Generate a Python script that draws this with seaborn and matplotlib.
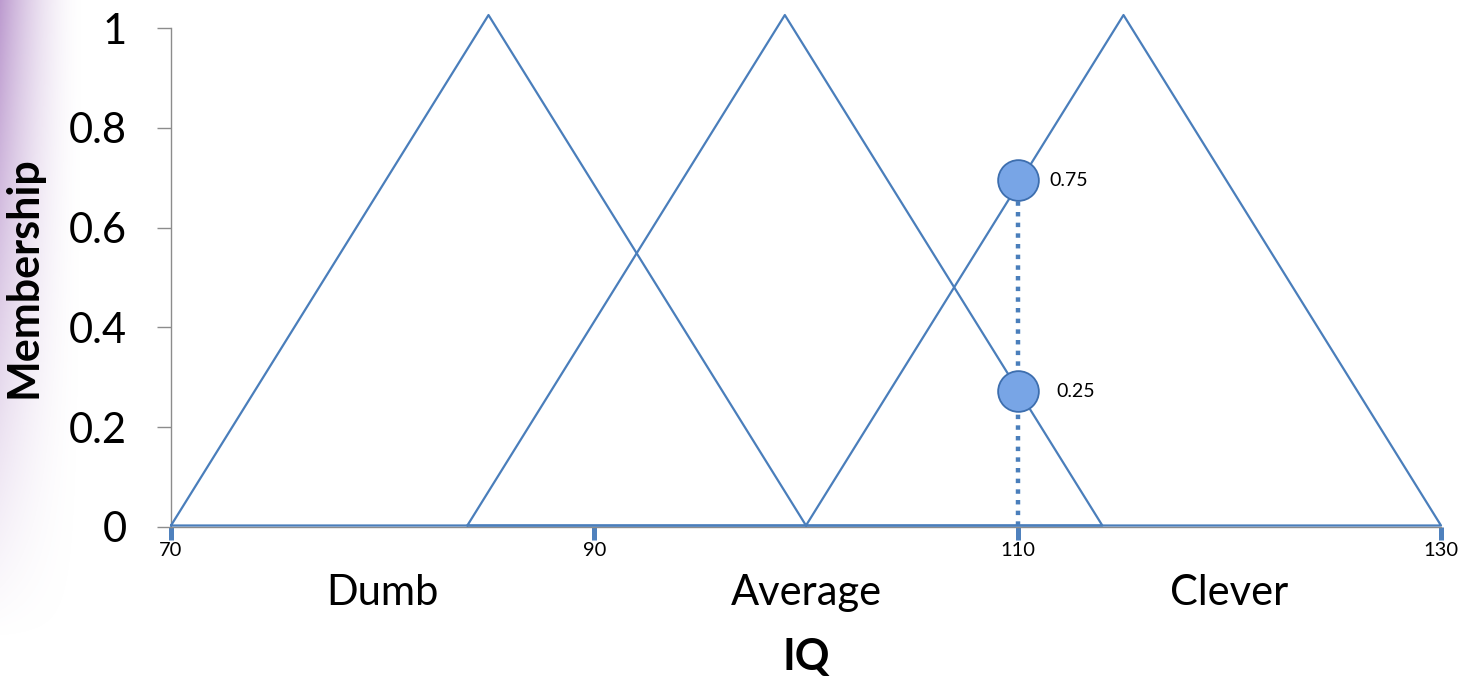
import numpy as np
import pandas as pd
import matplotlib
matplotlib.use("Agg")
import matplotlib.pyplot as plt
import seaborn as sns

# ---- data ----
set_names = ["Dumb", "Average", "Clever"]
set_starts = [70, 84, 100]
set_peaks = [85, 99, 115]
set_ends = [100, 114, 130]
peak_height = 1.026
label_centers = [80, 100, 120]

crisp_iq = 110
point_membership = [0.695, 0.272]
point_labels = ["0.75", "0.25"]

x_ticks = [70, 90, 110, 130]
y_ticks = [0, 0.2, 0.4, 0.6, 0.8, 1]
y_ticklabels = ["0", "0.2", "0.4", "0.6", "0.8", "1"]

sns.set_style("white")
plt.rcParams["font.family"] = ["Lato", "DejaVu Sans"]
plt.rcParams["text.color"] = "black"
plt.rcParams["axes.labelcolor"] = "black"
plt.rcParams["xtick.labelcolor"] = "black"
plt.rcParams["ytick.labelcolor"] = "black"

LINE = "#4a7ebb"
fig = plt.figure(figsize=(14.73, 6.78), dpi=100)

# background gradient on the left edge
bg = fig.add_axes([0, 0, 1, 1], zorder=-10)
W, H = 1473, 678
xx = np.arange(W)[None, :]
yy = np.arange(H)[:, None]
alpha = np.clip(1 - xx / 85.0, 0, 1) ** 1.8 * np.clip(1 - yy / 640.0, 0, 1) ** 1.1
img = np.zeros((H, W, 4))
img[..., 0] = 172 / 255
img[..., 1] = 130 / 255
img[..., 2] = 195 / 255
img[..., 3] = alpha * 0.8
bg.imshow(img, aspect="auto", extent=(0, 1, 0, 1), origin="upper")
bg.set_axis_off()

top_frac = 1 - 10 / 678
bottom_frac = 1 - 527 / 678
left_frac = 171 / 1473
right_frac = 1441 / 1473
ax = fig.add_axes([left_frac, bottom_frac, right_frac - left_frac, top_frac - bottom_frac])
ax.patch.set_alpha(0)

ylim_top = 517 / 499
ax.set_xlim(70, 130)
ax.set_ylim(0, ylim_top)

# triangles (closed, including base)
for name, s, p, e in zip(set_names, set_starts, set_peaks, set_ends):
    df = pd.DataFrame({"x": [s, p, e, s], "y": [0.003, peak_height, 0.003, 0.003]})
    sns.lineplot(data=df, x="x", y="y", sort=False, estimator=None, ax=ax,
                 color=LINE, linewidth=1.6, clip_on=False, zorder=3)

# dotted vertical line at the crisp value
dfv = pd.DataFrame({"x": [crisp_iq, crisp_iq], "y": [point_membership[0], 0]})
sns.lineplot(data=dfv, x="x", y="y", sort=False, estimator=None, ax=ax,
             color="#4a7ebb", linewidth=3.2, linestyle=(0, (1.0, 1.4)), zorder=4)

# membership points
dfp = pd.DataFrame({"x": [crisp_iq] * len(point_membership), "y": point_membership})
sns.scatterplot(data=dfp, x="x", y="y", ax=ax, s=860, color="#78a5e6",
                edgecolor="#3d6eae", linewidth=1.3, zorder=5, clip_on=False)
label_dx = [1.5, 1.85]
for yv, lab, dx in zip(point_membership, point_labels, label_dx):
    ax.text(crisp_iq + dx, yv, lab, fontsize=14, ha="left", va="center", color="black")

# category labels
for name, cx in zip(set_names, label_centers):
    ax.text(cx, -0.132, name, fontsize=30, ha="center", va="center", color="black")

# axes styling
for side in ["top", "right"]:
    ax.spines[side].set_visible(False)
ax.spines["left"].set_color("#8c8c8c")
ax.spines["left"].set_linewidth(1.0)
ax.spines["left"].set_bounds(0, 1)
ax.spines["bottom"].set_color("#8c8c8c")
ax.spines["bottom"].set_linewidth(1.0)

ax.set_yticks(y_ticks)
ax.set_yticklabels(y_ticklabels)
ax.tick_params(axis="y", direction="out", length=10, width=1.0, color="#8c8c8c",
               labelsize=30, pad=22, left=True, labelcolor="black")
ax.set_xticks(x_ticks)
ax.set_xticklabels([str(v) for v in x_ticks])
ax.tick_params(axis="x", direction="out", length=9, width=3.6, color="#4f81bd",
               labelsize=14.5, pad=2, bottom=True, labelcolor="black")

ax.set_xlabel("IQ", fontsize=31, fontweight="bold", labelpad=56, color="black")
ax.set_ylabel("Membership", fontsize=31, fontweight="bold", color="black")
ax.yaxis.set_label_coords(-0.1, 0.5 / ylim_top)

fig.savefig("out.png", dpi=100)
